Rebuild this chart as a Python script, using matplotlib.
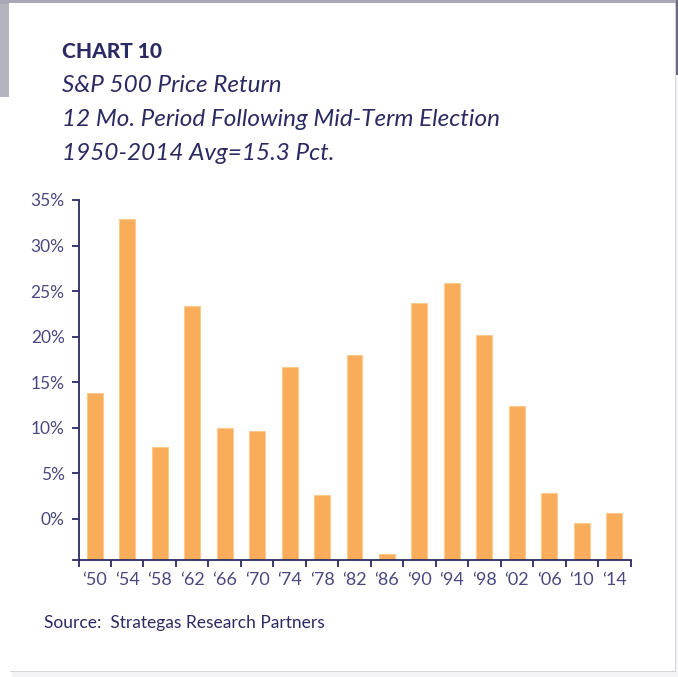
import matplotlib
matplotlib.use("Agg")
import matplotlib.pyplot as plt
from matplotlib.patches import Rectangle
import numpy as np

years = ["‘50", "‘54", "‘58", "‘62", "‘66", "‘70", "‘74", "‘78", "‘82",
         "‘86", "‘90", "‘94", "‘98", "‘02", "‘06", "‘10", "‘14"]
returns = [13.8, 32.9, 7.9, 23.4, 10.0, 9.6, 16.7, 2.6, 18.0,
           -3.9, 23.7, 25.9, 20.2, 12.4, 2.9, -0.4, 0.7]
yticks = [0, 5, 10, 15, 20, 25, 30, 35]
ytick_labels = ["0%", "5%", "10%", "15%", "20%", "25%", "30%", "35%"]

navy = "#2b2a62"
label_col = "#4a4880"
bar_col = "#f9ad5b"
FONT = ["Lato", "DejaVu Sans"]
plt.rcParams["font.family"] = FONT

W, H = 678, 677
fig = plt.figure(figsize=(W / 100, H / 100), dpi=100)
fig.patch.set_facecolor("#f4f4f6")

# card background
fig.patches.append(Rectangle((0, 0), 12 / W, 1 - 97 / H, transform=fig.transFigure,
                             facecolor="#ffffff", edgecolor="none", zorder=-3))
fig.patches.append(Rectangle((0, 1 - 97 / H), 10 / W, 97 / H, transform=fig.transFigure,
                             facecolor="#b4b4be", edgecolor="none", zorder=-3))
fig.patches.append(Rectangle((0, 1 - 4 / H), 1, 4 / H, transform=fig.transFigure,
                             facecolor="#a8a8b6", edgecolor="none", zorder=-3))
fig.patches.append(Rectangle((676 / W, 1 - 75 / H), 2 / W, 75 / H, transform=fig.transFigure,
                             facecolor="#6a6a7e", edgecolor="none", zorder=-3))
fig.patches.append(Rectangle((10 / W, 5 / H), 666 / W, 668 / H, transform=fig.transFigure,
                             facecolor="#d6d6d8", edgecolor="none", zorder=-2))
fig.patches.append(Rectangle((9 / W, 6 / H), 666 / W, 668 / H, transform=fig.transFigure,
                             facecolor="white", edgecolor="none", zorder=-1))

# titles
fig.text(62 / W, 1 - 51 / H, "CHART 10", fontsize=15, fontweight="black",
         color=navy, va="center", ha="left")
subs = ["S&P 500 Price Return", "12 Mo. Period Following Mid-Term Election",
        "1950-2014 Avg=15.3 Pct."]
for i, s in enumerate(subs):
    fig.text(62 / W, 1 - (85 + 34.5 * i) / H, s, fontsize=17.5, fontstyle="italic",
             fontweight="normal", color=navy, va="center", ha="left")
fig.text(44 / W, 1 - 623 / H, "Source:  Strategas Research Partners", fontsize=12.5,
         color=navy, va="center", ha="left")

ymin, ymax = -4.45, 35
ax = fig.add_axes([78.5 / W, 1 - 559.5 / H, (630.5 - 78.5) / W, (559.5 - 200) / H])
ax.set_facecolor("none")
x = np.arange(len(years))
vals = np.array(returns)
ax.bar(x, vals - ymin, bottom=ymin, width=0.49, color=bar_col,
       edgecolor="#fcc98e", linewidth=0.8, zorder=2)
ax.set_xlim(-0.5, len(years) - 0.5)
ax.set_ylim(ymin, ymax)

for s in ["top", "right"]:
    ax.spines[s].set_visible(False)
for s in ["left", "bottom"]:
    ax.spines[s].set_color(navy)
    ax.spines[s].set_linewidth(1.3)
ax.spines["bottom"].set_bounds(-0.68, len(years) - 0.5)

ax.set_yticks(yticks)
ax.set_yticklabels(ytick_labels)
ax.tick_params(axis="y", direction="out", length=5, width=1.3, color=navy,
               labelcolor=label_col, labelsize=12.5, pad=5)
ax.set_xticks(x)
ax.set_xticklabels(years)
ax.set_xticks(np.arange(-0.5, len(years)), minor=True)
ax.tick_params(axis="x", which="major", length=0, labelcolor=label_col,
               labelsize=13, pad=9)
ax.tick_params(axis="x", which="minor", direction="out", length=5, width=1.3, color=navy)

fig.savefig("out.png", dpi=100, facecolor=fig.get_facecolor())
